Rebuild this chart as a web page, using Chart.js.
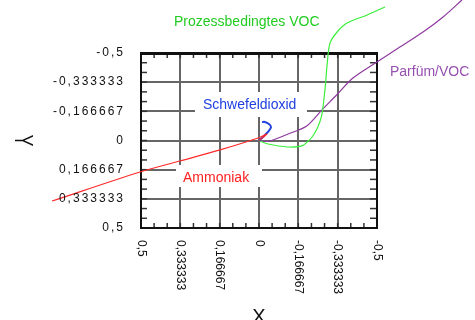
<!DOCTYPE html>
<html lang="de">
<head>
<meta charset="UTF-8">
<title>Biplot</title>
<script src="https://cdn.jsdelivr.net/npm/chart.js"></script>
<style>
  body { margin: 0; background: #fff; }
  #chart-container { width: 475px; height: 320px; }
</style>
</head>
<body>
<div id="chart-container"><canvas id="myChart"></canvas></div>
<script>
// Tick values + labels (both axes run reversed)
var xTicks = [0.5, 1/3, 1/6, 0, -1/6, -1/3, -0.5];
var xTickLabels = ["0,5", "0,333333", "0,166667", "0", "-0,166667", "-0,333333", "-0,5"];
var yTicks = [-0.5, -1/3, -1/6, 0, 1/6, 1/3, 0.5];
var yTickLabels = ["-0,5", "-0,333333", "-0,166667", "0", "0,166667", "0,333333", "0,5"];

var seriesNames = ["Ammoniak", "Schwefeldioxid", "Prozessbedingtes VOC", "Parfüm/VOC"];

// Ammoniak
var ammoniakX = [0.877, 0.504, 0.335, 0.165, 0.004, -0.034, 0.0];
var ammoniakY = [0.346, 0.18, 0.117, 0.054, -0.014, -0.037, 0.0];
// Schwefeldioxid
var schwefelX = [0.0, -0.017, -0.038, -0.051, -0.042, -0.025, -0.013];
var schwefelY = [0.0, -0.02, -0.049, -0.077, -0.094, -0.106, -0.106];
// Prozessbedingtes VOC
var prozessX = [0.0, -0.038, -0.123, -0.182, -0.203, -0.225, -0.246, -0.264, -0.273, -0.282, -0.289, -0.301, -0.331, -0.373, -0.458, -0.534];
var prozessY = [0.0, 0.02, 0.037, 0.031, 0.01, -0.02, -0.067, -0.133, -0.211, -0.326, -0.44, -0.557, -0.62, -0.671, -0.717, -0.763];
// Parfüm/VOC
var parfumX = [0.0, -0.038, -0.123, -0.202, -0.266, -0.329, -0.398, -0.5, -0.597, -0.695, -0.78, -0.86];
var parfumY = [0.0, 0.005, -0.037, -0.083, -0.174, -0.26, -0.357, -0.449, -0.534, -0.62, -0.706, -0.803];

var seriesColors = ["#ff2a2a", "#2040e0", "#3cee3c", "#8e3a9e"];
var labelColors = ["#ff2020", "#2040e0", "#22cc22", "#9650b0"];

function toPoints(xs, ys) {
    return xs.map(function (x, i) { return { x: x, y: ys[i] }; });
}

function line(ctx, x1, y1, x2, y2) {
    ctx.beginPath();
    ctx.moveTo(x1, y1);
    ctx.lineTo(x2, y2);
    ctx.stroke();
}

// label placement (pixel boxes for the series names)
var seriesLabels = [
    { text: seriesNames[0], x: 183, y: 178, box: [176, 165, 86, 22] },
    { text: seriesNames[1], x: 203, y: 105, box: [195, 92, 112, 25] },
    { text: seriesNames[2], x: 174, y: 22, box: null },
    { text: seriesNames[3], x: 390, y: 72, box: null }
];

var decorations = {
    id: 'decorations',
    beforeDatasetsDraw: function (chart) {
        var ctx = chart.ctx, a = chart.chartArea;
        var xs = chart.scales.x, ys = chart.scales.y;
        ctx.save();

        // white boxes behind the labels hide the grid
        seriesLabels.forEach(function (l, i) {
            if (l.box) {
                ctx.fillStyle = '#fff';
                ctx.fillRect(l.box[0], l.box[1], l.box[2], l.box[3]);
            }
            ctx.fillStyle = labelColors[i];
            ctx.font = '14px "Liberation Sans", Arial, sans-serif';
            ctx.textAlign = 'left';
            ctx.textBaseline = 'middle';
            ctx.fillText(l.text, l.x, l.y);
        });

        // minor ticks, pointing inward on all four sides
        ctx.strokeStyle = '#333';
        ctx.lineWidth = 1.5;
        for (var k = -9; k <= 9; k++) {
            var px = xs.getPixelForValue(k / 18);
            var py = ys.getPixelForValue(k / 18);
            line(ctx, px, a.bottom, px, a.bottom - 5);
            line(ctx, px, a.top, px, a.top + 5);
            line(ctx, a.left, py, a.left + 6, py);
            line(ctx, a.right, py, a.right - 7, py);
        }

        // frame
        ctx.strokeStyle = '#111';
        ctx.lineWidth = 2;
        ctx.strokeRect(a.left, a.top, a.right - a.left, a.bottom - a.top);
        ctx.lineWidth = 3;
        line(ctx, a.left, a.top + 0.5, a.right, a.top + 0.5);
        ctx.restore();
    },
    afterDraw: function (chart) {
        var ctx = chart.ctx, a = chart.chartArea;
        var xs = chart.scales.x, ys = chart.scales.y;
        ctx.save();
        ctx.fillStyle = '#111';

        // y tick labels
        ctx.font = '12px "Liberation Sans", Arial, sans-serif';
        ctx.letterSpacing = '2px';
        ctx.textAlign = 'right';
        ctx.textBaseline = 'middle';
        yTicks.forEach(function (v, i) {
            ctx.fillText(yTickLabels[i], a.left - 16, ys.getPixelForValue(v));
        });
        ctx.letterSpacing = '0px';

        // x tick labels, turned clockwise
        ctx.textAlign = 'left';
        xTicks.forEach(function (v, i) {
            ctx.save();
            ctx.translate(xs.getPixelForValue(v), a.bottom + 12);
            ctx.rotate(Math.PI / 2);
            ctx.fillText(xTickLabels[i], 0, 0);
            ctx.restore();
        });

        // axis titles
        ctx.textAlign = 'center';
        ctx.textBaseline = 'alphabetic';
        ctx.font = '20px "Liberation Sans", Arial, sans-serif';
        ctx.fillText('X', (a.left + a.right) / 2, 323);

        ctx.save();
        ctx.translate(22, (a.top + a.bottom) / 2);
        ctx.rotate(Math.PI / 2);
        ctx.scale(1, 1.4);
        ctx.textBaseline = 'middle';
        ctx.font = '18px "Liberation Sans", Arial, sans-serif';
        ctx.fillText('Y', 0, 0);
        ctx.restore();

        ctx.restore();
    }
};

var data = {
    datasets: [
        { label: seriesNames[0], data: toPoints(ammoniakX, ammoniakY), borderColor: seriesColors[0] },
        { label: seriesNames[1], data: toPoints(schwefelX, schwefelY), borderColor: seriesColors[1], borderWidth: 2 },
        { label: seriesNames[2], data: toPoints(prozessX, prozessY), borderColor: seriesColors[2] },
        { label: seriesNames[3], data: toPoints(parfumX, parfumY), borderColor: seriesColors[3] }
    ]
};
data.datasets.forEach(function (d) {
    d.showLine = true;
    d.pointRadius = 0;
    d.borderWidth = d.borderWidth || 1.2;
    d.tension = 0.3;
    d.clip = false;
});

var gridOpts = { color: '#666', lineWidth: 2, drawTicks: false };

var ctx = document.getElementById('myChart').getContext('2d');
var myChart = new Chart(ctx, {
    type: 'scatter',
    data: data,
    plugins: [decorations],
    options: {
        responsive: true,
        maintainAspectRatio: false,
        animation: false,
        layout: { padding: { left: 141, top: 53, right: 98, bottom: 92 } },
        scales: {
            x: {
                type: 'linear', min: -0.5, max: 0.5, reverse: true,
                afterBuildTicks: function (s) { s.ticks = xTicks.map(function (v) { return { value: v }; }); },
                ticks: { display: false },
                grid: gridOpts,
                border: { display: false }
            },
            y: {
                type: 'linear', min: -0.5, max: 0.5, reverse: true,
                afterBuildTicks: function (s) { s.ticks = yTicks.map(function (v) { return { value: v }; }); },
                ticks: { display: false },
                grid: gridOpts,
                border: { display: false }
            }
        },
        plugins: {
            legend: { display: false },
            tooltip: { enabled: false }
        }
    }
});
</script>
</body>
</html>
